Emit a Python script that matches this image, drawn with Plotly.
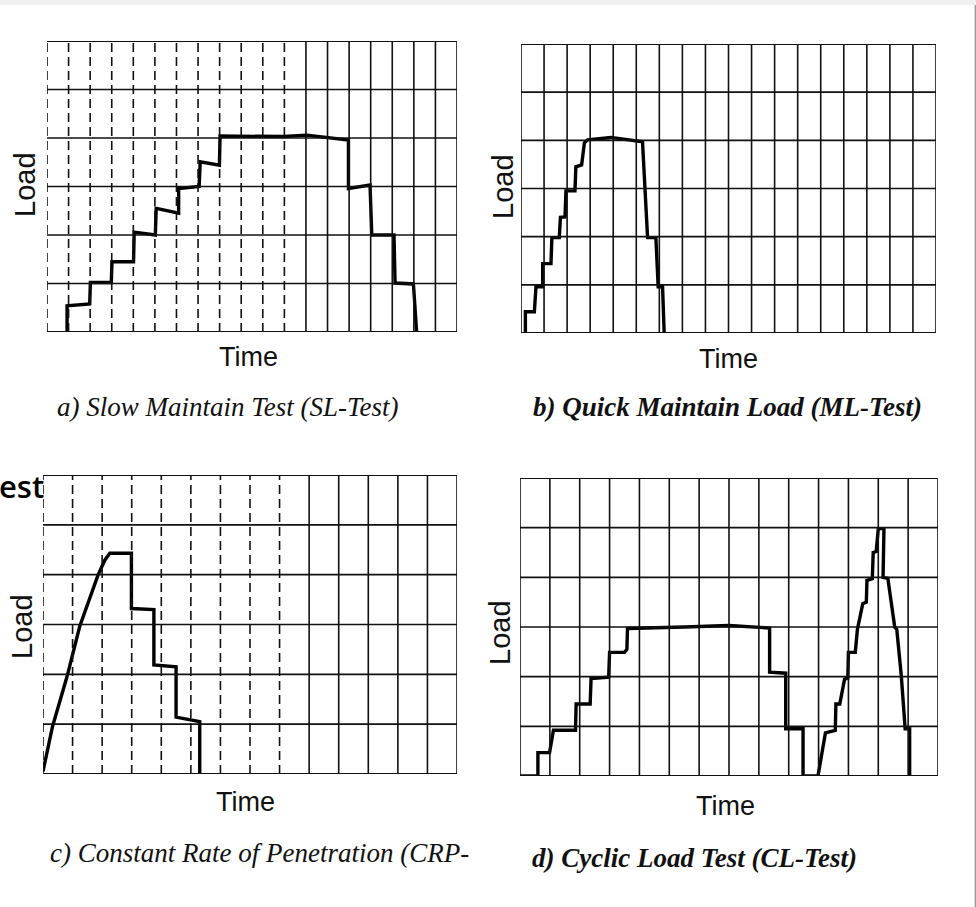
import plotly.graph_objects as go

W, H = 976, 907

# ---------------- data (grid units: 1 = one grid cell) ----------------
n_rows = 6
a_cols, b_cols, c_cols, d_cols = 19, 18, 14, 14

# a) Slow Maintain Test
a_time = [0.93, 0.93, 1.98, 2.01, 2.98, 3.01, 4.01, 4.04, 5.02, 5.06, 6.1, 6.1, 7.05,
          7.1, 7.99, 8.02, 10.96, 12.04, 13.97, 13.97, 14.97, 15.05, 16.08, 16.13, 16.98, 17.13]
a_load = [0, 0.54, 0.58, 1.02, 1.02, 1.45, 1.45, 2.06, 2.0, 2.55, 2.45, 2.96, 3.0,
          3.51, 3.44, 4.04, 4.03, 4.06, 3.96, 2.96, 3.03, 2.0, 2.0, 1.01, 0.99, 0]

# b) Quick Maintain Load
b_time = [0.19, 0.19, 0.58, 0.65, 0.94, 0.94, 1.3, 1.34, 1.66, 1.71, 1.91, 1.95, 2.34,
          2.38, 2.63, 2.75, 2.89, 3.9, 5.27, 5.38, 5.49, 5.85, 5.95, 6.14, 6.21]
b_load = [0, 0.44, 0.44, 0.96, 0.96, 1.44, 1.44, 1.98, 1.98, 2.4, 2.41, 2.95, 2.95,
          3.45, 3.49, 3.95, 4.01, 4.06, 3.97, 2.95, 1.98, 1.98, 0.96, 0.96, 0]

# c) Constant Rate of Penetration
c_time = [0, 0.32, 0.82, 1.24, 1.86, 2.09, 2.26, 2.99, 2.99, 3.75, 3.75, 4.5, 4.5, 5.3, 5.3]
c_load = [0.05, 0.95, 1.97, 2.96, 3.99, 4.29, 4.43, 4.43, 3.32, 3.30, 2.19, 2.15, 1.14, 1.05, 0]

# d) Cyclic Load Test
d_time = [0, 0.6, 0.6, 0.99, 1.12, 1.86, 1.88, 2.35, 2.38, 2.97, 3.0, 3.5, 3.58, 3.6,
          5.5, 7.0, 8.36, 8.36, 8.9, 8.9, 9.48, 9.48,
          9.98, 10.09, 10.23, 10.56, 10.58, 10.71, 10.87, 10.98, 11.0, 11.23, 11.3,
          11.48, 11.6, 11.62, 11.8, 11.83, 11.93, 12.0, 12.19, 12.16, 12.32, 12.55,
          12.62, 12.77, 12.9, 13.05, 13.05]
d_load = [0, 0, 0.47, 0.47, 0.92, 0.92, 1.45, 1.45, 1.96, 1.99, 2.49, 2.49, 2.55, 2.97,
          3.0, 3.03, 2.98, 2.09, 2.07, 0.95, 0.95, 0,
          0, 0.37, 0.87, 0.92, 1.45, 1.45, 1.95, 1.97, 2.49, 2.49, 2.95,
          3.47, 3.5, 3.94, 3.97, 4.5, 4.52, 4.98, 4.98, 4.0, 3.98, 3.0,
          2.95, 2.02, 0.95, 0.95, 0]

captions = ["a) Slow Maintain Test (SL-Test)",
            "b) Quick Maintain Load (ML-Test)",
            "c) Constant Rate of Penetration (CRP-",
            "d) Cyclic Load Test (CL-Test)"]
x_title = "Time"
y_title = "Load"

# ---------------- layout helpers (pixel boxes) ----------------
# (left, right, top, bottom) in page pixels
boxes = [(47, 457, 41, 332), (521, 936, 44, 333), (43, 457, 475, 774), (520, 938, 478, 776)]
ncols = [a_cols, b_cols, c_cols, d_cols]
# first solid vertical grid line index (lines before are dashed)
solid_from = [12, 0, 9, 0]
series = [(a_time, a_load), (b_time, b_load), (c_time, c_load), (d_time, d_load)]
time_pos = [(248, 357), (728, 359), (246, 802), (725, 806)]
load_pos = [(25, 185), (503, 187), (22, 627), (500, 632)]
cap_pos = [(55, 407), (531, 407), (48, 853), (530, 858)]
cap_bold = [False, True, False, True]


def px(x):
    return x / W


def py(y):
    return 1 - y / H


fig = go.Figure()
shapes = []
annotations = []

# page background: white sheet with thin grey strip on top and right
shapes.append(dict(type="rect", xref="paper", yref="paper", x0=0, x1=px(974), y0=0, y1=py(5),
                   fillcolor="white", line=dict(width=0), layer="below"))
shapes.append(dict(type="line", xref="paper", yref="paper", x0=px(975.5), x1=px(975.5), y0=0, y1=py(5),
                   line=dict(color="#9a9a9a", width=1.5), layer="below"))

for i in range(4):
    l, r, t, b = boxes[i]
    k = "" if i == 0 else str(i + 1)
    fig.update_layout(**{
        "xaxis" + k: dict(domain=[px(l), px(r)], range=[0, ncols[i]], showgrid=False, zeroline=False,
                          showticklabels=False, ticks="", fixedrange=True, anchor="y" + k),
        "yaxis" + k: dict(domain=[py(b), py(t)], range=[0, n_rows], showgrid=False, zeroline=False,
                          showticklabels=False, ticks="", fixedrange=True, anchor="x" + k),
    })
    xr, yr = "x" + k, "y" + k
    # vertical grid lines
    for j in range(ncols[i] + 1):
        dashed = (j < solid_from[i])
        shapes.append(dict(type="line", xref=xr, yref=yr, x0=j, x1=j, y0=0, y1=n_rows,
                           line=dict(color="#111", width=1.6, dash="9px,5px" if dashed else "solid")))
    # horizontal grid lines
    for j in range(n_rows + 1):
        shapes.append(dict(type="line", xref=xr, yref=yr, x0=0, x1=ncols[i], y0=j, y1=j,
                           line=dict(color="#111", width=1.8 if j in (0, n_rows) else 1.6)))
    xs, ys = series[i]
    fig.add_trace(go.Scatter(x=xs, y=ys, mode="lines", xaxis=xr, yaxis=yr,
                             line=dict(color="black", width=3.4), showlegend=False, hoverinfo="skip"))
    annotations.append(dict(xref="paper", yref="paper", x=px(time_pos[i][0]), y=py(time_pos[i][1]),
                            text=x_title, showarrow=False, xanchor="center", yanchor="middle",
                            font=dict(family="Liberation Sans, Arial, sans-serif", size=27, color="#111")))
    annotations.append(dict(xref="paper", yref="paper", x=px(load_pos[i][0]), y=py(load_pos[i][1]),
                            text=y_title, showarrow=False, textangle=-90, xanchor="center", yanchor="middle",
                            font=dict(family="Liberation Sans, Arial, sans-serif", size=29, color="#111")))
    cap = captions[i]
    if cap_bold[i]:
        cap = "<b>" + cap + "</b>"
    annotations.append(dict(xref="paper", yref="paper", x=px(cap_pos[i][0]), y=py(cap_pos[i][1]),
                            text="<i>" + cap + "</i>", showarrow=False, xanchor="left", yanchor="middle",
                            font=dict(family="Liberation Serif, Times New Roman, serif", size=27, color="#111")))

# fragment of a slide title at the left edge
annotations.append(dict(xref="paper", yref="paper", x=px(46), y=py(486), text="est", showarrow=False,
                        xanchor="right", yanchor="middle", xshift=0,
                        font=dict(family="Open Sans, sans-serif", size=31, color="black", weight=600)))

fig.update_layout(width=W, height=H, margin=dict(l=0, r=0, t=0, b=0),
                  paper_bgcolor="#f0f0f0", plot_bgcolor="white",
                  shapes=shapes, annotations=annotations, showlegend=False)

fig.write_html("out.html", config={"displayModeBar": False},
               post_script="document.body.style.margin='0';document.body.style.overflow='hidden';")
